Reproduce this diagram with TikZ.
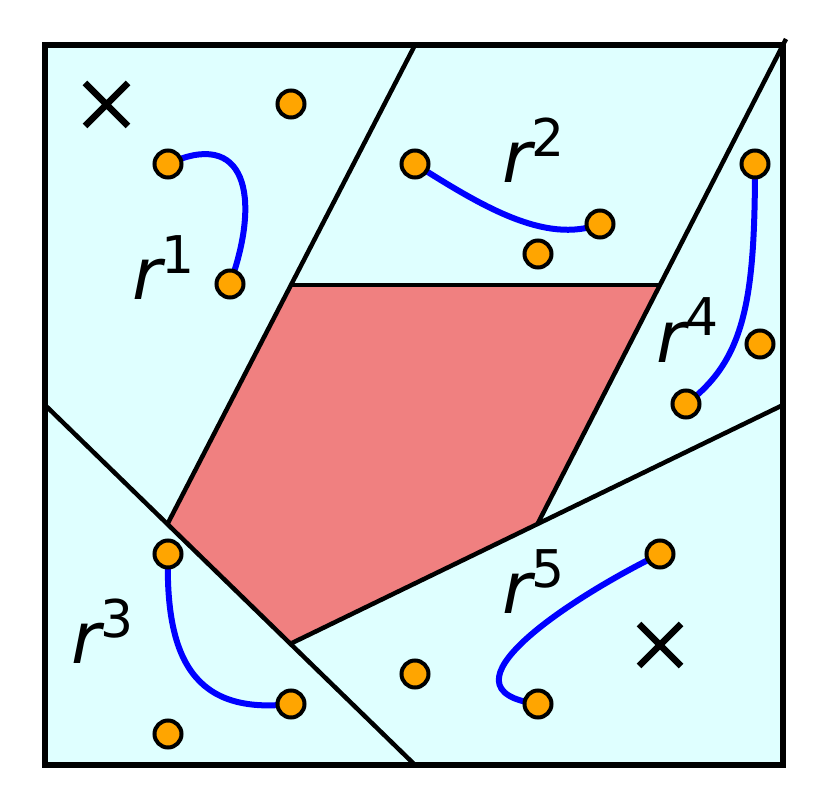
\documentclass[tikz,border=0pt]{standalone}
\usepackage{fontspec}
\setmainfont{DejaVu Sans}
\begin{document}
\begin{tikzpicture}[x=1pt,y=-1pt,
  region/.style={line width=4.5pt,black},
  frame/.style={line width=5.5pt,black},
  rayline/.style={line width=6pt,blue},
  pt/.style={circle,fill=dotorange,draw=black,line width=4pt,minimum size=27pt,inner sep=0pt},
  crossmark/.style={line width=6.5pt,black},
  lab/.style={anchor=base west,inner sep=0pt}]
\definecolor{bgcyan}{HTML}{DFFFFF}
\definecolor{redreg}{HTML}{F08080}
\definecolor{dotorange}{HTML}{FFA500}
\useasboundingbox (0,0) rectangle (830,810);
% background
\fill[bgcyan] (45,45) rectangle (783,765);
% red region
\fill[redreg] (292,285) -- (660,285) -- (538,523) -- (292,643) -- (168,523) -- cycle;
% dividing lines
\coordinate (t1) at (415,45);
\coordinate (a) at (168,523);
\coordinate (t2) at (786,39);
\coordinate (b) at (538,523);
\coordinate (h1) at (292,285);
\coordinate (h2) at (660,285);
\coordinate (l1) at (45,405);
\coordinate (l2) at (415,765);
\coordinate (c) at (292,643);
\coordinate (r1) at (783,405);
\draw[region] (t1) -- (a);
\draw[region] (t2) -- (b);
\draw[region] (h1) -- (h2);
\draw[region] (l1) -- (l2);
\draw[region] (c) -- (r1);
\draw[frame] (45,45) rectangle (783,765);
% point positions
\coordinate (q1) at (291,104);
\coordinate (q2) at (168,164);
\coordinate (q3) at (230,284);
\coordinate (q4) at (415,164);
\coordinate (q5) at (600,224);
\coordinate (q6) at (538,254);
\coordinate (q7) at (755,164);
\coordinate (q8) at (760,344);
\coordinate (q9) at (686,404);
\coordinate (q10) at (168,554);
\coordinate (q11) at (291,704);
\coordinate (q12) at (168,734);
\coordinate (q13) at (415,674);
\coordinate (q14) at (660,554);
\coordinate (q15) at (538,704);
% blue curves
\draw[rayline] (q2) .. controls (245,128) and (262,195) .. (q3);
\draw[rayline] (q4) .. controls (480,205) and (545,245) .. (q5);
\draw[rayline] (q10) .. controls (165,660) and (195,715) .. (q11);
\draw[rayline] (q7) .. controls (755,300) and (745,360) .. (q9);
\draw[rayline] (q14) .. controls (570,598) and (430,690) .. (q15);
% points
\foreach \i in {1,...,15} \node[pt] (n\i) at (q\i) {};
% crosses
\draw[crossmark] (85,83) -- (128,126) (85,126) -- (128,83);
\draw[crossmark] (639,624) -- (681,666) (639,666) -- (681,624);
% labels
\node[lab] (L1) at (132,300) {\fontsize{72}{72}\selectfont\itshape r\raisebox{26pt}{\fontsize{52}{52}\selectfont\upshape 1}};
\node[lab] (L2) at (502,183) {\fontsize{72}{72}\selectfont\itshape r\raisebox{26pt}{\fontsize{52}{52}\selectfont\upshape 2}};
\node[lab] (L3) at (71,663) {\fontsize{72}{72}\selectfont\itshape r\raisebox{26pt}{\fontsize{52}{52}\selectfont\upshape 3}};
\node[lab] (L4) at (656,362) {\fontsize{72}{72}\selectfont\itshape r\raisebox{26pt}{\fontsize{52}{52}\selectfont\upshape 4}};
\node[lab] (L5) at (502,613) {\fontsize{72}{72}\selectfont\itshape r\raisebox{26pt}{\fontsize{52}{52}\selectfont\upshape 5}};
\end{tikzpicture}
\end{document}
